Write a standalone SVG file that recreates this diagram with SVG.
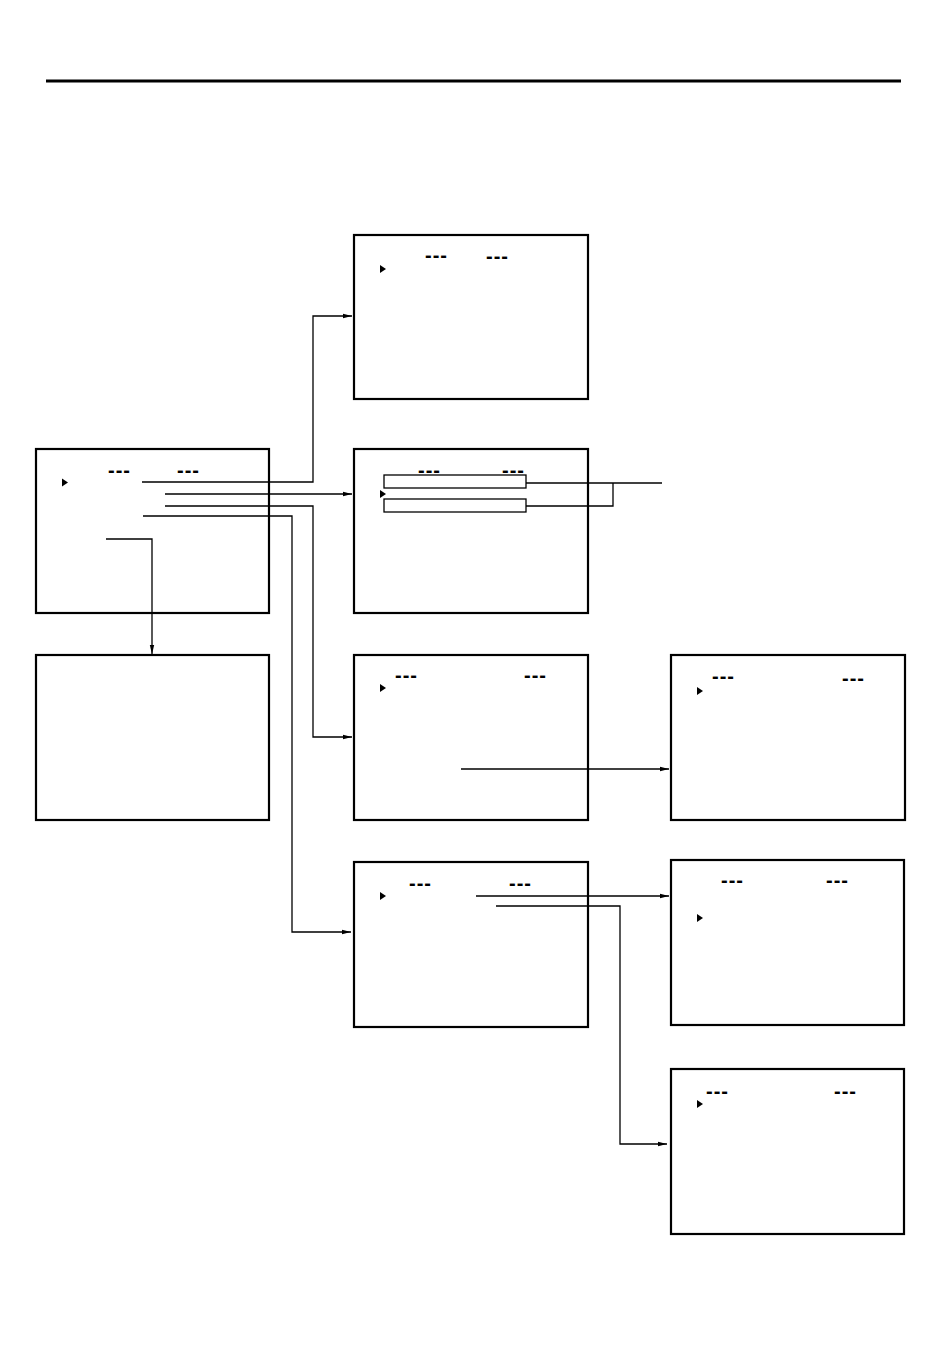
<svg xmlns="http://www.w3.org/2000/svg" width="950" height="1362" viewBox="0 0 950 1362">
<style>
.box{fill:#fff;stroke:#000;stroke-width:2.2}
.inner{fill:#fff;stroke:#000;stroke-width:1.3}
.ln{fill:none;stroke:#000;stroke-width:1.3}
.dash{font-family:"Liberation Sans",Arial,sans-serif;font-weight:bold;font-size:20px;fill:#000}
.tri{fill:#000}
</style>
<defs>
<marker id="ah" markerWidth="10" markerHeight="6" refX="9" refY="3" orient="auto" markerUnits="userSpaceOnUse">
<path d="M0,0.8 L9,3 L0,5.2 Z" fill="#000"/>
</marker>
</defs>
<rect width="950" height="1362" fill="#fff"/>
<line x1="46" y1="81" x2="901" y2="81" stroke="#000" stroke-width="3"/>

<g id="main">
<rect class="box" x="36" y="449" width="233" height="164"/>
<text class="dash" x="108" y="477" textLength="22" lengthAdjust="spacing">---</text>
<text class="dash" x="177" y="477" textLength="22" lengthAdjust="spacing">---</text>
<polygon class="tri" points="62,478.5 68,482.5 62,486.5"/>
</g>

<g id="left-lower">
<rect class="box" x="36" y="655" width="233" height="165"/>
</g>

<g id="box-a">
<rect class="box" x="354" y="235" width="234" height="164"/>
<text class="dash" x="425" y="262" textLength="22" lengthAdjust="spacing">---</text>
<text class="dash" x="486" y="263" textLength="22" lengthAdjust="spacing">---</text>
<polygon class="tri" points="380,265 386,269 380,273"/>
</g>

<g id="box-b">
<rect class="box" x="354" y="449" width="234" height="164"/>
<text class="dash" x="418" y="477" textLength="22" lengthAdjust="spacing">---</text>
<text class="dash" x="502" y="477" textLength="22" lengthAdjust="spacing">---</text>
<rect class="inner" x="384" y="475" width="142" height="13"/>
<rect class="inner" x="384" y="499" width="142" height="13"/>
<polygon class="tri" points="380,490 386,494 380,498"/>
</g>

<g id="box-c">
<rect class="box" x="354" y="655" width="234" height="165"/>
<text class="dash" x="395" y="682" textLength="22" lengthAdjust="spacing">---</text>
<text class="dash" x="524" y="682" textLength="22" lengthAdjust="spacing">---</text>
<polygon class="tri" points="380,684 386,688 380,692"/>
</g>

<g id="box-d">
<rect class="box" x="671" y="655" width="234" height="165"/>
<text class="dash" x="712" y="683" textLength="22" lengthAdjust="spacing">---</text>
<text class="dash" x="842" y="685" textLength="22" lengthAdjust="spacing">---</text>
<polygon class="tri" points="697,687 703,691 697,695"/>
</g>

<g id="box-e">
<rect class="box" x="354" y="862" width="234" height="165"/>
<text class="dash" x="409" y="890" textLength="22" lengthAdjust="spacing">---</text>
<text class="dash" x="509" y="890" textLength="22" lengthAdjust="spacing">---</text>
<polygon class="tri" points="380,892 386,896 380,900"/>
</g>

<g id="box-f">
<rect class="box" x="671" y="860" width="233" height="165"/>
<text class="dash" x="721" y="887" textLength="22" lengthAdjust="spacing">---</text>
<text class="dash" x="826" y="887" textLength="22" lengthAdjust="spacing">---</text>
<polygon class="tri" points="697,914 703,918 697,922"/>
</g>

<g id="box-g">
<rect class="box" x="671" y="1069" width="233" height="165"/>
<text class="dash" x="706" y="1098" textLength="22" lengthAdjust="spacing">---</text>
<text class="dash" x="834" y="1098" textLength="22" lengthAdjust="spacing">---</text>
<polygon class="tri" points="697,1100 703,1104 697,1108"/>
</g>

<g id="connectors">
<polyline class="ln" points="142,482 313,482 313,316 352,316" marker-end="url(#ah)"/>
<polyline class="ln" points="165,494 352,494" marker-end="url(#ah)"/>
<polyline class="ln" points="165,506 313,506 313,737 352,737" marker-end="url(#ah)"/>
<polyline class="ln" points="143,516 292,516 292,932 351,932" marker-end="url(#ah)"/>
<polyline class="ln" points="106,539 152,539 152,654" marker-end="url(#ah)"/>
<polyline class="ln" points="526,483 662,483"/>
<polyline class="ln" points="526,506 613,506 613,483"/>
<polyline class="ln" points="461,769 669,769" marker-end="url(#ah)"/>
<polyline class="ln" points="476,896 669,896" marker-end="url(#ah)"/>
<polyline class="ln" points="496,906 620,906 620,1144 667,1144" marker-end="url(#ah)"/>
</g>
</svg>
